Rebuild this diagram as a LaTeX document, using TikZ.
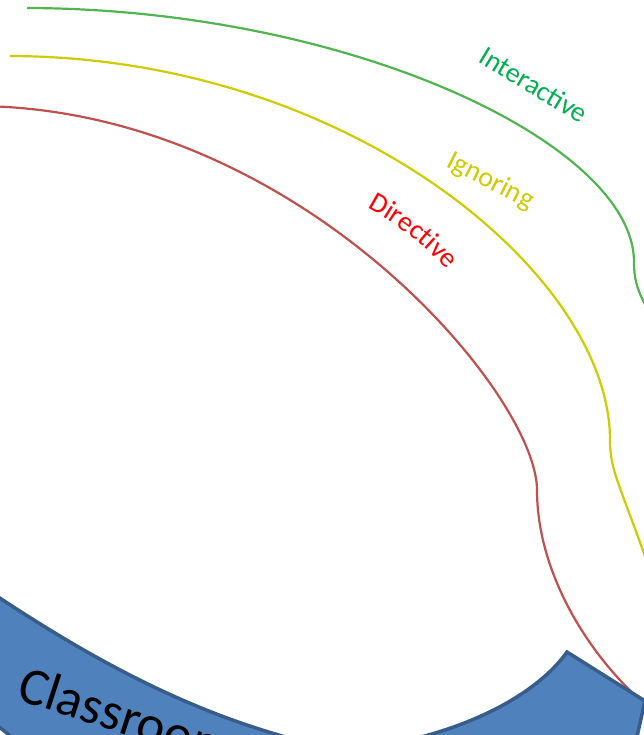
\documentclass[tikz,border=0pt]{standalone}
\usepackage{fontspec}
\setmainfont{Carlito}
\usetikzlibrary{decorations.text}
\definecolor{lgreen}{HTML}{50B450}
\definecolor{tgreen}{HTML}{00B050}
\definecolor{lyellow}{HTML}{CCCC00}
\definecolor{lred}{HTML}{C0504D}
\definecolor{tred}{HTML}{FF0000}
\definecolor{bfill}{HTML}{4F81BD}
\definecolor{bline}{HTML}{385D8A}
\begin{document}
\begin{tikzpicture}[x=1pt,y=-1pt,
  curve/.style={line width=2.2pt},
  band/.style={fill=bfill, draw=bline, line width=3.5pt},
  lbl/.style={font=\fontsize{28}{34}\selectfont, anchor=base, inner sep=0pt}]
\useasboundingbox (0,0) rectangle (644,735);
\clip (0,0) rectangle (644,735);
% green (Interactive)
\draw[curve, lgreen] (27,8) .. controls (350,9) and (634,144) .. (634,262)
  .. controls (634,285) and (640,295) .. (652,318);
% yellow (Ignoring)
\draw[curve, lyellow] (10,56) .. controls (350,57) and (610,275) .. (610,440)
  .. controls (610,470) and (618,480) .. (650,570);
% red (Directive)
\draw[curve, lred] (-20,106) .. controls (300,110) and (537,395) .. (537,490)
  .. controls (537,570) and (585,650) .. (640,700);
% blue band
\filldraw[band] (-30,578) .. controls (90,660) and (200,720) .. (330,748)
  -- (25,748) -- (-30,703) -- cycle;
\filldraw[band] (400,742) .. controls (480,725) and (540,690) .. (567,652)
  -- (645,701) -- (634,750) -- (400,750) -- cycle;
% labels
\node[lbl, text=tgreen, rotate=-31] (inter) at (529,93) {Interactive};
\node[lbl, text=lyellow, rotate=-27] (ign) at (487,188) {Ignoring};
\path[decorate, decoration={text along path, text align=center, text color=tred,
  text={|\fontsize{28}{34}\selectfont|Directive}}]
  (225.6,471) ++(-80:299) arc[start angle=-80, end angle=-24, radius=299];
\node[font=\fontsize{53}{60}\selectfont, rotate=-18, anchor=base west, inner sep=0pt] (cls) at (15,699) {Classroom};
\end{tikzpicture}
\end{document}
